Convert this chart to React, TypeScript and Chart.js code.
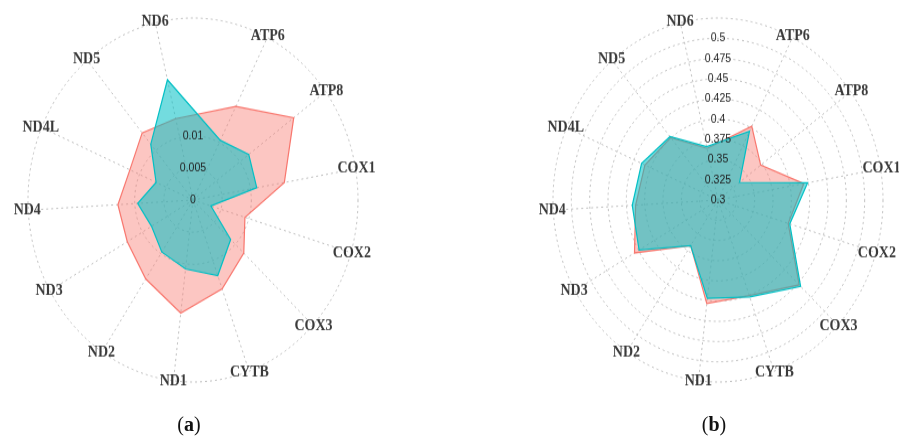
import React, { useEffect, useRef } from 'react';
import { Chart, registerables } from 'chart.js';

Chart.register(...registerables);

// Genes in clockwise order starting from ATP6
const GENES = ['ATP6', 'ATP8', 'COX1', 'COX2', 'COX3', 'CYTB', 'ND1', 'ND2', 'ND3', 'ND4', 'ND4L', 'ND5', 'ND6'];

// Panel (a)
const A_PINK = [0.0163, 0.0215, 0.0159, 0.0093, 0.012, 0.0147, 0.0177, 0.0147, 0.013, 0.0129, 0.0118, 0.0136, 0.013];
const A_TEAL = [0.0104, 0.0119, 0.0111, 0.0032, 0.0089, 0.0125, 0.0108, 0.0097, 0.0082, 0.0095, 0.0069, 0.0113, 0.0192];
const A_TICKS = [0, 0.005, 0.01];
const A_TICK_LABELS = ['0', '0.005', '0.01'];
const A_MIN = 0;
const A_MAX = 0.0283;

// Panel (b)
const B_PINK = [0.4021, 0.3724, 0.4188, 0.4, 0.4525, 0.4255, 0.4289, 0.3676, 0.4313, 0.4125, 0.4087, 0.4006, 0.3655];
const B_TEAL = [0.3952, 0.3366, 0.424, 0.4022, 0.4552, 0.4274, 0.4225, 0.3676, 0.4241, 0.4171, 0.4136, 0.4021, 0.3677];
const B_TICKS = [0.3, 0.325, 0.35, 0.375, 0.4, 0.425, 0.45, 0.475, 0.5];
const B_TICK_LABELS = ['0.3', '0.325', '0.35', '0.375', '0.4', '0.425', '0.45', '0.475', '0.5'];
const B_MIN = 0.3;
const B_MAX = 0.525;

// angular layout: genes sit on every other slot of 27, leaving a wider gap between ND6 and ATP6
const SLOTS = 27;
const START_ANGLE = 26.8;

const PINK = 'rgb(248,118,109)';
const PINK_FILL = 'rgba(248,118,109,0.42)';
const TEAL = 'rgb(0,191,196)';
const TEAL_FILL = 'rgba(0,191,196,0.55)';
const GRID = 'rgba(185,185,185,0.9)';

const slotLabels = Array.from({ length: SLOTS }, (_, i) => (i % 2 === 0 && i / 2 < GENES.length ? GENES[i / 2] : ''));
const toSlots = (vals: number[]) =>
  Array.from({ length: SLOTS }, (_, i) => (i % 2 === 0 && i / 2 < vals.length ? vals[i / 2] : null));

function makeLabelPlugin(tickVals: number[], tickLabels: string[]) {
  return {
    id: 'customLabels',
    afterDraw(chart: any) {
      const s = chart.scales.r;
      const ctx = chart.ctx;
      ctx.save();
      ctx.textAlign = 'center';
      ctx.textBaseline = 'middle';
      ctx.font = 'bold 14px "Liberation Serif"';
      ctx.fillStyle = '#3a3a3a';
      (chart.data.labels as string[]).forEach((lab, i) => {
        if (!lab) return;
        const p = s.getPointPosition(i, s.drawingArea + 1);
        ctx.fillText(lab, p.x, p.y);
      });
      ctx.font = '10.5px "Liberation Sans"';
      ctx.fillStyle = '#1e1e1e';
      tickVals.forEach((v, i) => {
        const d = s.getDistanceFromCenterForValue(v);
        ctx.fillText(tickLabels[i], s.xCenter, s.yCenter - d);
      });
      ctx.restore();
    },
  };
}

type PanelProps = {
  pink: number[];
  teal: number[];
  ticks: number[];
  tickLabels: string[];
  min: number;
  max: number;
  left: number;
};

function RadarPanel({ pink, teal, ticks, tickLabels, min, max, left }: PanelProps) {
  const ref = useRef<HTMLCanvasElement>(null);
  useEffect(() => {
    if (!ref.current) return;
    const gridVals = [...ticks, max];
    const chart = new Chart(ref.current, {
      type: 'radar',
      data: {
        labels: slotLabels,
        datasets: [
          {
            label: 'teal',
            data: toSlots(teal),
            borderColor: TEAL,
            backgroundColor: TEAL_FILL,
            borderWidth: 1.2,
            fill: 'start',
            spanGaps: true,
          },
          {
            label: 'pink',
            data: toSlots(pink),
            borderColor: PINK,
            backgroundColor: PINK_FILL,
            borderWidth: 1.2,
            fill: 'start',
            spanGaps: true,
          },
        ],
      },
      options: {
        responsive: false,
        animation: false,
        layout: { padding: 35 },
        plugins: { legend: { display: false }, tooltip: { enabled: false } },
        elements: {
          point: { radius: 0, hitRadius: 0, hoverRadius: 0 },
          line: { tension: 0 },
        },
        scales: {
          r: {
            min,
            max,
            startAngle: START_ANGLE,
            ticks: { display: false },
            pointLabels: { display: false },
            grid: { circular: true, color: GRID, lineWidth: 1 },
            border: { dash: [2, 3] },
            angleLines: {
              display: true,
              color: (c: any) => (c.label ? GRID : 'rgba(0,0,0,0)'),
              lineWidth: (c: any) => (c.label ? 1 : 0),
              borderDash: [2, 3],
            },
            afterBuildTicks: (scale: any) => {
              scale.ticks = gridVals.map((v) => ({ value: v }));
            },
          },
        },
      } as any,
      plugins: [makeLabelPlugin(ticks, tickLabels)],
    });
    return () => chart.destroy();
  }, []);
  return (
    <div
      style={{
        position: 'absolute',
        left,
        top: 0,
        width: 400,
        height: 400,
        transform: 'scaleY(1.103)',
        transformOrigin: '50% 50%',
      }}
    >
      <canvas ref={ref} width={400} height={400} style={{ width: 400, height: 400, display: 'block' }} />
    </div>
  );
}

const captionStyle: React.CSSProperties = {
  position: 'absolute',
  top: 412,
  width: 60,
  textAlign: 'center',
  fontFamily: '"Liberation Serif", serif',
  fontSize: 20,
  lineHeight: '24px',
  color: '#111',
};

export default function App() {
  return (
    <div
      style={{
        position: 'absolute',
        left: 0,
        top: 0,
        width: 899,
        height: 439,
        overflow: 'hidden',
        background: '#fff',
      }}
    >
      <RadarPanel pink={A_PINK} teal={A_TEAL} ticks={A_TICKS} tickLabels={A_TICK_LABELS} min={A_MIN} max={A_MAX} left={-7} />
      <RadarPanel pink={B_PINK} teal={B_TEAL} ticks={B_TICKS} tickLabels={B_TICK_LABELS} min={B_MIN} max={B_MAX} left={518} />
      <div style={{ ...captionStyle, left: 159 }}>
        (<b>a</b>)
      </div>
      <div style={{ ...captionStyle, left: 684 }}>
        (<b>b</b>)
      </div>
    </div>
  );
}
